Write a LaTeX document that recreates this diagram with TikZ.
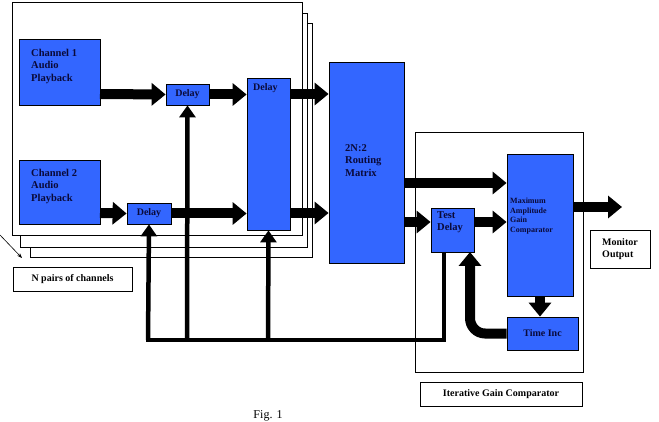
\documentclass[tikz,border=0pt]{standalone}
\usepackage{fontspec}
\setmainfont{Liberation Serif}
\usetikzlibrary{arrows.meta}
\definecolor{bb}{HTML}{3366FF}
\definecolor{tx}{HTML}{0A0A3A}
\begin{document}
\begin{tikzpicture}[x=1pt,y=-1pt,
  blk/.style={fill=bb,draw=black,line width=0.8pt},
  lab/.style={font=\bfseries\fontsize{10.5}{12.5}\selectfont,text=tx,align=left,anchor=north west,inner sep=0pt},
  dl/.style={font=\bfseries\fontsize{10}{11}\selectfont,text=tx},
  fat/.style={line width=10pt,-{Triangle[width=22pt,length=14pt]}},
  thin/.style={line width=4.5pt,-{Triangle[width=16pt,length=12pt]}},
  wbox/.style={draw=black,line width=0.8pt,fill=white,font=\bfseries\fontsize{10}{12.5}\selectfont,align=left}]
\useasboundingbox (0,0) rectangle (659,422);
% stacked frames
\draw[line width=0.8pt,fill=white] (30,23) rectangle (312,257);
\draw[line width=0.8pt,fill=white] (20,13) rectangle (307,247);
\draw[line width=0.8pt,fill=white] (12,2) rectangle (302,235);
\draw[line width=0.6pt,-{Stealth[length=5pt]}] (0,235) -- (22,258);
% blocks
\path[blk] (19,39) rectangle (100,105);
\node[lab] (c1) at (31,49) {Channel 1\\Audio\\Playback};
\path[blk] (19,160) rectangle (100,224);
\node[lab] (c2) at (31,169) {Channel 2\\Audio\\Playback};
\node[blk,dl,minimum width=43pt,minimum height=21pt,inner sep=0pt] (d1) at (187.5,94.5) {Delay};
\node[blk,dl,minimum width=44pt,minimum height=21pt,inner sep=0pt] (d2) at (149,213.5) {Delay};
\node[blk,minimum width=43pt,minimum height=152pt,inner sep=0pt] (bd) at (268.5,154) {};
\node[lab,font=\bfseries\fontsize{10}{11}\selectfont] at (253,83) {Delay};
\node[blk,minimum width=75pt,minimum height=201pt,inner sep=0pt] (rm) at (366.5,162.5) {};
\node[lab] at (345,144) {2N:2\\Routing\\Matrix};
% IGC
\draw[line width=0.8pt] (415,132) rectangle (583,372);
\node[wbox,minimum width=162pt,minimum height=24pt] (igc) at (501,394) {Iterative Gain Comparator};
\node[blk,minimum width=43pt,minimum height=44pt,inner sep=0pt] (td) at (452.5,230) {};
\node[lab] at (437,211) {Test\\Delay};
\node[blk,minimum width=66pt,minimum height=142pt,inner sep=0pt] (ma) at (540,225) {};
\node[lab,font=\bfseries\fontsize{8}{9.5}\selectfont] at (510,198) {Maximum\\Amplitude\\Gain\\Comparator};
\node[blk,dl,minimum width=71pt,minimum height=33pt,inner sep=0pt] (ti) at (542.5,333.5) {Time Inc};
\node[wbox,minimum width=60pt,minimum height=38pt,inner sep=2pt] (mo) at (620,249) {Monitor\\Output};
\node[wbox,minimum width=119pt,minimum height=24pt] (np) at (72.5,279) {N pairs of channels};
% fat arrows
\coordinate (a1) at (100,94); \draw[fat] (a1) -- (d1.west);
\draw[fat] (d1.east) -- (bd.west |- d1.east);
\draw[fat] (bd.east |- 0,94) -- (rm.west |- 0,94);
\coordinate (a2) at (100,213); \draw[fat] (a2) -- (d2.west);
\draw[fat] (d2.east) -- (bd.west |- d2.east);
\draw[fat] (bd.east |- 0,213) -- (rm.west |- 0,213);
\draw[fat] (rm.east |- 0,183) -- (ma.west |- 0,183);
\draw[fat] (rm.east |- 0,222) -- (td.west |- 0,222);
\draw[fat] (td.east |- 0,222) -- (ma.west |- 0,222);
\coordinate (mo1) at (622,207); \draw[fat] (ma.east |- 0,207) -- (mo1);
\draw[fat] (ma.south) -- (ti.north -| ma.south);
\draw[line width=10pt,-{Triangle[width=22pt,length=14pt]}] (ti.west) -- (485,333.5) to[out=180,in=270] (470,318) -- (470,252);
% feedback
\draw[line width=4.5pt,line join=miter] (444,252) -- (444,340) -- (148,340) -- (148,300);
\draw[thin] (148,340) -- (d2.south);
\draw[thin] (187,340) -- (d1.south);
\draw[thin] (268,340) -- (bd.south);
\node[font=\fontsize{12}{12}\selectfont,anchor=north] (fig) at (268,407) {Fig. 1};
\end{tikzpicture}
\end{document}
